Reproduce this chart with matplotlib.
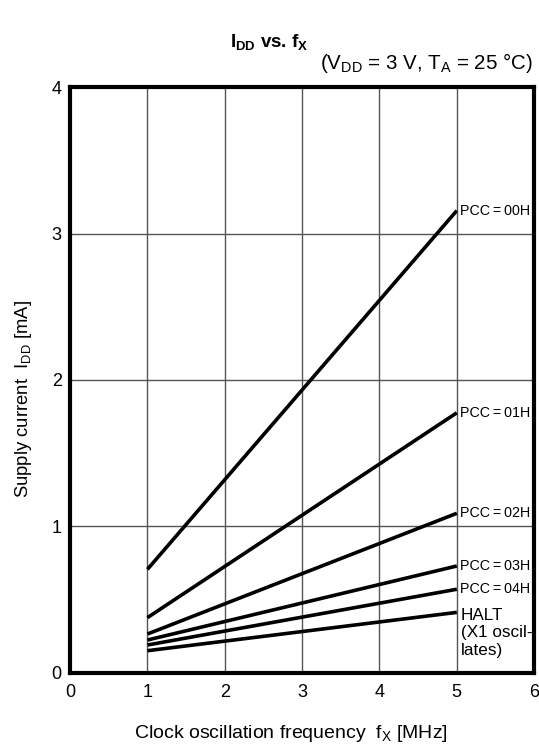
import numpy as np
import matplotlib.pyplot as plt

plt.rcParams["font.family"] = ["Liberation Sans", "DejaVu Sans"]
plt.rcParams["mathtext.fontset"] = "custom"
plt.rcParams["mathtext.rm"] = "Liberation Sans"
plt.rcParams["mathtext.it"] = "Liberation Sans"
plt.rcParams["mathtext.bf"] = "Liberation Sans:bold"

# clock frequency [MHz], endpoints of each curve
freq = [1, 5]
pcc_00h = [0.705, 3.157]
pcc_01h = [0.375, 1.775]
pcc_02h = [0.263, 1.088]
pcc_03h = [0.222, 0.728]
pcc_04h = [0.188, 0.569]
halt = [0.149, 0.411]

series = [pcc_00h, pcc_01h, pcc_02h, pcc_03h, pcc_04h, halt]
labels = ["PCC\u2009=\u200900H", "PCC\u2009=\u200901H", "PCC\u2009=\u200902H",
          "PCC\u2009=\u200903H", "PCC\u2009=\u200904H",
          "HALT\n(X1 oscil-\nlates)"]

xticks = [0, 1, 2, 3, 4, 5, 6]
yticks = [0, 1, 2, 3, 4]

fig = plt.figure(figsize=(5.39, 7.52), dpi=100)
ax = fig.add_axes([0.130, 0.1057, 0.861, 0.7783])

for ys in series:
    ax.plot(freq, ys, color="black", lw=2.6, solid_capstyle="butt", zorder=3)

for ys, lab in zip(series, labels):
    if lab.startswith("HALT"):
        ax.text(5.05, ys[1] + 0.03, lab, fontsize=12.3, va="top", ha="left",
                linespacing=1.2)
    else:
        ax.text(5.04, ys[1], lab, fontsize=10.3, va="center", ha="left")

ax.set_xlim(0, 6)
ax.set_ylim(0, 4)
ax.set_xticks(xticks)
ax.set_yticks(yticks)
ax.tick_params(length=0, labelsize=13)
ax.tick_params(axis="x", pad=8)
ax.tick_params(axis="y", pad=6)
ax.grid(True, color="#555555", lw=1)
ax.set_axisbelow(True)
for s in ax.spines.values():
    s.set_linewidth(3)

fig.text(0.540, 0.024, r"Clock oscillation frequency  f$_{\rm X}$ [MHz]",
         fontsize=14, ha="center", va="center")
fig.text(0.043, 0.469, r"Supply current  I$_{\rm DD}$ [mA]", fontsize=13.3,
         rotation=90, ha="center", va="center")

fig.text(0.5, 0.944, r"$\mathbf{I_{DD}}$ vs. f$_{\mathbf{X}}$", fontsize=13.5,
         fontweight="bold", ha="center", va="center")
fig.text(0.989, 0.916, r"(V$_{\rm DD}$ = 3 V, T$_{\rm A}$ = 25 °C)", fontsize=14.8,
         ha="right", va="center")

fig.savefig("out.png", dpi=100)
